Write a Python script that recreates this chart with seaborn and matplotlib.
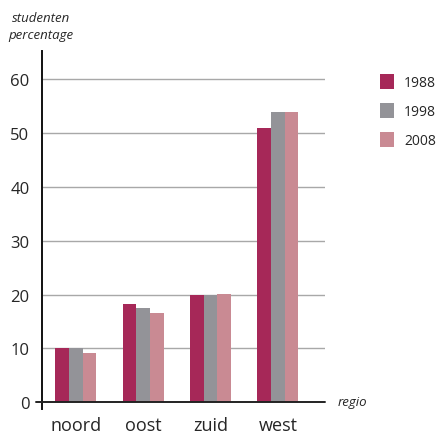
import matplotlib
matplotlib.use("Agg")
import matplotlib.pyplot as plt
import seaborn as sns
import pandas as pd
from matplotlib.patches import Patch

regions = ["noord", "oost", "zuid", "west"]
years = ["1988", "1998", "2008"]
v1988 = [10.0, 18.2, 20.0, 51.0]
v1998 = [10.0, 17.4, 20.0, 54.0]
v2008 = [9.2, 16.6, 20.1, 54.0]
colors = ["#A62858", "#939398", "#C98A93"]

df = pd.DataFrame({
    "regio": regions * 3,
    "jaar": [y for y in years for _ in regions],
    "pct": v1988 + v1998 + v2008,
})

sns.set_style("white")
plt.rcParams['font.family'] = ['Open Sans', 'DejaVu Sans']

fig = plt.figure(figsize=(4.36, 4.35), dpi=100)
ax = fig.add_axes([42/436, 1-410/435, (325-42)/436, (410-52)/435])

sns.barplot(data=df, x="regio", y="pct", hue="jaar", palette=colors,
            width=0.61, gap=0, ax=ax, legend=False, saturation=1, errorbar=None,
            linewidth=0, edgecolor="none")

ax.set_ylim(-1.3, 65.3)
ax.set_xlim(-0.5, 3.7)
ax.set_yticks([0, 10, 20, 30, 40, 50, 60])
for yv in [10, 20, 30, 40, 50, 60]:
    ax.axhline(yv, color="#a8a8a8", lw=1.0, zorder=0)
ax.axhline(0, color="#222222", lw=1.4, zorder=3, xmin=-0.02, clip_on=False)

for s in ["top", "right", "bottom"]:
    ax.spines[s].set_visible(False)
ax.spines["left"].set_color("#111111")
ax.spines["left"].set_linewidth(1.4)

ax.tick_params(axis="y", length=5, width=1, color="#a8a8a8", labelsize=12, pad=4)
ax.tick_params(axis="x", length=0, labelsize=13, pad=5)
ax.set_xlabel("")
ax.set_ylabel("")

fig.text(12/436, 1-18/435, "studenten", style="italic", fontsize=9.5, ha="left", va="center")
fig.text(8/436, 1-36/435, "percentage", style="italic", fontsize=9.5, ha="left", va="center")
fig.text(338/436, 1-403/435, "regio", style="italic", fontsize=9.5, ha="left", va="center")

handles = [Patch(facecolor=c, edgecolor="none") for c in colors]
fig.legend(handles, years, loc="upper left", bbox_to_anchor=(379/436, 1-74/435),
           frameon=False, handlelength=0.95, handleheight=1.2, handletextpad=0.75,
           labelspacing=0.95, fontsize=10, borderaxespad=0, borderpad=0.1)

fig.savefig("out.png", dpi=100)
